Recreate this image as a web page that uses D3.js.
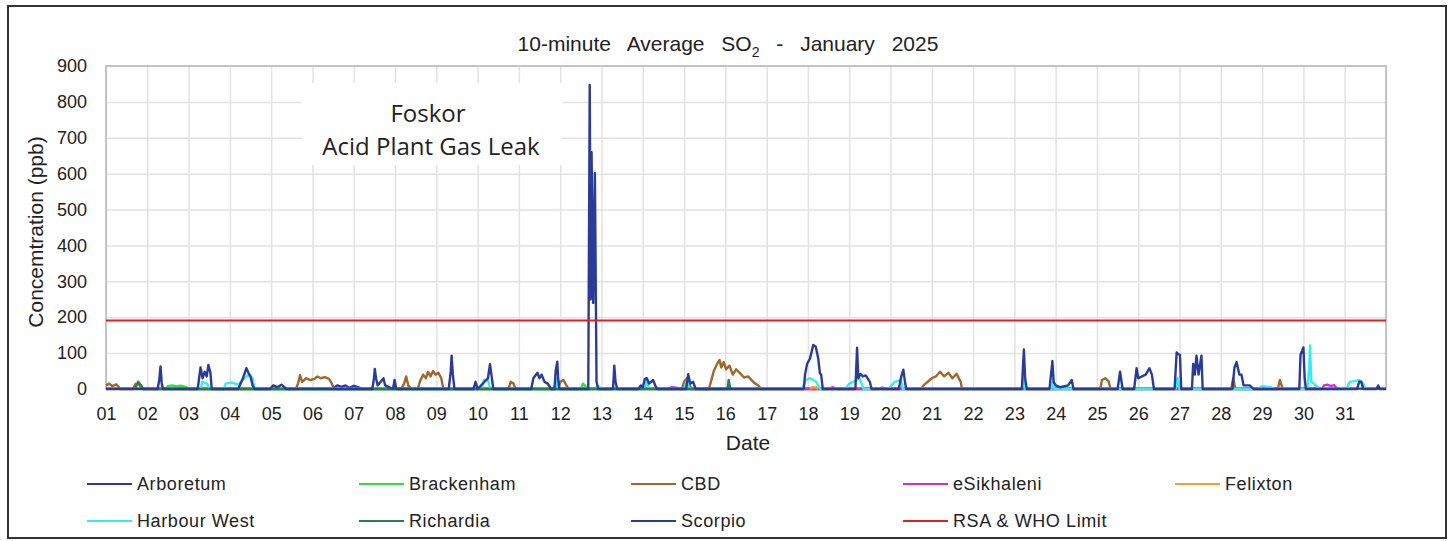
<!DOCTYPE html>
<html lang="en">
<head>
<meta charset="utf-8">
<style>
body { margin: 0; background: #fff; font-family: "Liberation Sans", Arial, sans-serif; }
.grid line { stroke: #e2e2e2; stroke-width: 1.5; }
.grid path { stroke: none; }
.axis path, .axis line { stroke: none; }
.axis text { font-size: 18px; fill: #222; font-family: "Liberation Sans", Arial, sans-serif; }
</style>
<title>10-minute Average SO2 - January 2025</title>
<script src="https://cdn.jsdelivr.net/npm/d3@7"></script>
</head>
<body>
<div id="chart"></div>
<script>

var width = 1449,
	height = 541;

// day of month (fraction of day), ppb
var arboretum = [[1,1],[6.5,1],[6.6,10],[6.7,6],[6.8,10],[6.9,3],[7.0,9],[7.1,5],[7.2,1],[13.9,1],[14.0,6],[14.1,1],[22.5,1],[32,1]];
var brackenham = [[2.45,0],[2.5,8],[2.6,10],[2.7,7],[2.8,9],[2.95,5],[3.0,0],[12.5,0],[12.55,15],[12.6,10],[12.65,0]];
var cbd = [[1.0,10],[1.08,15],[1.15,8],[1.25,13],[1.34,0],
	[1.65,0],[1.72,15],[1.8,12],[1.9,0],
	[5.6,0],[5.65,15],[5.7,39],[5.75,20],[5.85,30],[5.95,25],[6.05,28],[6.12,35],[6.2,30],[6.3,33],[6.4,28],[6.47,15],[6.52,0],
	[8.15,0],[8.22,15],[8.27,35],[8.32,10],[8.4,0],
	[8.55,0],[8.6,20],[8.68,40],[8.75,30],[8.8,48],[8.86,35],[8.92,50],[8.98,40],[9.05,45],[9.12,30],[9.17,0],
	[10.75,0],[10.8,20],[10.87,15],[10.92,0],
	[11.95,0],[12.0,20],[12.08,25],[12.15,10],[12.2,0],
	[14.95,0],[15.0,20],[15.07,30],[15.12,15],[15.18,0],
	[15.6,0],[15.65,20],[15.72,50],[15.8,70],[15.86,81],[15.9,60],[15.96,75],[16.02,55],[16.1,65],[16.18,40],[16.26,55],[16.35,45],[16.45,32],[16.55,35],[16.7,17],[16.8,10],[16.86,0],
	[20.75,0],[20.8,10],[20.9,20],[21.0,30],[21.1,35],[21.2,48],[21.3,35],[21.4,45],[21.5,30],[21.6,42],[21.7,20],[21.73,0],
	[25.08,0],[25.12,25],[25.2,30],[25.28,22],[25.33,0],
	[28.25,0],[28.3,30],[28.35,0],
	[29.38,0],[29.43,25],[29.5,0]];
var esikhaleni = [[14.6,0],[14.7,5],[14.85,3],[14.9,0],[18.5,0],[18.6,5],[18.7,0],[19.7,0],[19.8,4],[19.85,0],
	[30.45,0],[30.5,10],[30.58,12],[30.66,8],[30.74,11],[30.82,0]];
var felixton = [[18.05,0],[18.1,5],[18.2,4],[18.25,0]];
var harbourWest = [[3.3,0],[3.33,20],[3.45,15],[3.5,0],
	[3.85,0],[3.9,15],[4.05,18],[4.2,12],[4.3,25],[4.45,40],[4.55,30],[4.6,0],
	[10.1,0],[10.15,25],[10.25,25],[10.3,0],
	[11.9,0],[11.93,30],[11.97,0],
	[12.85,0],[12.9,10],[13.0,0],
	[14.05,0],[14.1,25],[14.15,0],
	[15.0,0],[15.08,25],[15.12,0],
	[17.85,0],[17.95,25],[18.05,30],[18.2,20],[18.3,0],
	[18.9,0],[19.0,15],[19.1,20],[19.25,30],[19.35,0],
	[19.95,0],[20.1,20],[20.25,25],[20.3,0],
	[23.18,0],[23.22,30],[23.26,0],
	[23.9,0],[23.93,20],[23.97,0],
	[26.9,0],[26.95,30],[27.0,0],
	[28.9,0],[29.0,8],[29.2,5],[29.3,0],
	[30.1,0],[30.14,60],[30.16,121],[30.19,20],[30.25,15],[30.35,5],[30.4,0],
	[31.05,0],[31.12,20],[31.25,22],[31.35,25],[31.45,15],[31.5,0]];
var richardia = [[1.7,0],[1.78,20],[1.85,10],[1.9,0],[16.05,0],[16.08,25],[16.12,0]];
var scorpio = [[1.0,0],[2.25,0],[2.29,25],[2.32,63],[2.35,15],[2.38,0],
	[3.22,0],[3.29,60],[3.34,30],[3.39,48],[3.44,35],[3.48,67],[3.53,45],[3.56,0],
	[4.2,0],[4.3,25],[4.4,58],[4.45,45],[4.5,35],[4.55,10],[4.6,0],
	[4.97,0],[5.05,10],[5.15,5],[5.25,12],[5.37,0],
	[7.45,0],[7.49,30],[7.51,56],[7.54,30],[7.58,10],[7.72,30],[7.76,10],[7.95,0],[7.99,25],[8.03,0],
	[9.3,0],[9.35,50],[9.37,93],[9.4,40],[9.44,0],
	[9.9,0],[9.95,20],[10.0,0],[10.25,30],[10.3,69],[10.34,35],[10.38,0],
	[11.3,0],[11.35,30],[11.45,45],[11.5,30],[11.55,40],[11.62,20],[11.7,15],[11.78,0],
	[11.86,0],[11.89,50],[11.93,76],[11.95,30],[11.98,0],
	[12.68,0],[12.715,847],[12.74,250],[12.76,660],[12.8,240],[12.84,601],[12.88,20],[12.92,0],
	[13.28,0],[13.31,65],[13.34,20],[13.38,0],
	[13.9,0],[13.95,10],[14.0,5],[14.05,28],[14.1,30],[14.15,15],[14.25,25],[14.3,10],[14.35,0],
	[15.05,0],[15.1,41],[15.15,15],[15.22,20],[15.28,0],
	[17.9,0],[17.93,40],[17.98,70],[18.05,85],[18.13,123],[18.19,118],[18.25,85],[18.29,44],[18.32,40],[18.36,0],
	[19.15,0],[19.19,115],[19.22,30],[19.27,42],[19.33,35],[19.4,38],[19.5,20],[19.54,0],
	[20.2,0],[20.26,35],[20.31,54],[20.35,20],[20.38,0],
	[23.18,0],[23.23,110],[23.26,30],[23.3,0],
	[23.85,0],[23.92,78],[23.95,20],[24.0,10],[24.1,5],[24.3,10],[24.39,25],[24.43,0],
	[25.5,0],[25.56,48],[25.62,0],
	[25.9,0],[25.96,58],[26.0,30],[26.18,40],[26.27,58],[26.33,40],[26.38,0],
	[26.88,0],[26.93,102],[26.97,97],[27.01,95],[27.04,0],
	[27.3,0],[27.33,70],[27.37,40],[27.41,93],[27.46,40],[27.53,93],[27.56,0],
	[28.28,0],[28.33,60],[28.38,75],[28.45,40],[28.5,40],[28.55,10],[28.7,10],[28.79,0],
	[29.9,0],[29.93,95],[30.0,116],[30.03,30],[30.06,0],
	[31.3,0],[31.35,20],[31.4,20],[31.45,0],
	[31.77,0],[31.81,10],[31.85,0],[32,0]];
var limit = [[1,191],[32,191]];

var series = [
	{name: "Arboretum", color: "#3232b8", values: arboretum},
	{name: "Brackenham", color: "#33dd44", values: brackenham},
	{name: "CBD", color: "#a0672c", values: cbd},
	{name: "eSikhaleni", color: "#cc33cc", values: esikhaleni},
	{name: "Felixton", color: "#f0a030", values: felixton},
	{name: "Harbour West", color: "#33eeee", values: harbourWest},
	{name: "Richardia", color: "#2e7d50", values: richardia},
	{name: "Scorpio", color: "#2b3c98", values: scorpio},
	{name: "RSA & WHO Limit", color: "#e02020", values: limit}
];

var days = d3.range(1, 32);
var yTicks = d3.range(0, 901, 100);

var svg = d3.select("#chart")
	.append("svg")
	.attr("width", width)
	.attr("height", height);

// frame
svg.append("rect")
	.attr("x", 8).attr("y", 6)
	.attr("width", 1438).attr("height", 532)
	.attr("fill", "#fff")
	.attr("stroke", "#333")
	.attr("stroke-width", 2);

var x = d3.scaleLinear().domain([1, 32]).range([106, 1386]);
var y = d3.scaleLinear().domain([0, 900]).range([389, 66]);

// grid
svg.append("g")
	.attr("class", "grid")
	.attr("transform", "translate(0,389)")
	.call(d3.axisBottom(x).tickValues(days.concat([32])).tickSize(-(389 - 66)).tickFormat(""));
svg.append("g")
	.attr("class", "grid")
	.attr("transform", "translate(106,0)")
	.call(d3.axisLeft(y).tickValues(yTicks).tickSize(-(1386 - 106)).tickFormat(""));

// plot frame
svg.append("rect")
	.attr("x", 106).attr("y", 66)
	.attr("width", 1386 - 106).attr("height", 389 - 66)
	.attr("fill", "none")
	.attr("stroke", "#c4c4c4")
	.attr("stroke-width", 2);

// annotation box
svg.append("rect")
	.attr("x", 302).attr("y", 83)
	.attr("width", 260).attr("height", 82)
	.attr("fill", "#fff");
svg.append("text")
	.attr("x", 428).attr("y", 122)
	.attr("text-anchor", "middle")
	.style("font-family", "'Open Sans', sans-serif")
	.style("font-size", "24px")
	.style("fill", "#222")
	.text("Foskor");
svg.append("text")
	.attr("x", 431).attr("y", 155)
	.attr("text-anchor", "middle")
	.style("font-family", "'Open Sans', sans-serif")
	.style("font-size", "24px")
	.style("fill", "#222")
	.text("Acid Plant Gas Leak");

// axes
svg.append("g")
	.attr("class", "axis")
	.attr("transform", "translate(0,389)")
	.call(d3.axisBottom(x).tickValues(days).tickSize(0).tickPadding(18)
		.tickFormat(function(d){ return d3.format("02d")(d); }));
svg.append("g")
	.attr("class", "axis")
	.attr("transform", "translate(106,0)")
	.call(d3.axisLeft(y).tickValues(yTicks).tickSize(0).tickPadding(19));

var line = d3.line()
	.x(function(d){ return x(d[0]); })
	.y(function(d){ return y(d[1]); });

svg.append("g")
	.selectAll("path")
	.data(series)
	.enter()
	.append("path")
	.attr("d", function(d){ return line(d.values); })
	.attr("fill", "none")
	.attr("stroke", function(d){ return d.color; })
	.attr("stroke-width", function(d){ return d.name == "RSA & WHO Limit" ? 2 : 2.4; })
	.attr("stroke-linejoin", "round");

// title
var title = svg.append("text")
	.attr("x", 728).attr("y", 51)
	.attr("text-anchor", "middle")
	.style("font-size", "21px")
	.style("word-spacing", "11px")
	.style("fill", "#222");
title.append("tspan").text("10-minute Average SO");
title.append("tspan").attr("dy", 6).style("font-size", "14px").text("2");
title.append("tspan").attr("dy", -6).text(" - January 2025");

svg.append("text")
	.attr("transform", "translate(43,232) rotate(-90)")
	.attr("text-anchor", "middle")
	.style("font-size", "21px")
	.style("fill", "#222")
	.text("Concemtration (ppb)");

svg.append("text")
	.attr("x", 748).attr("y", 450)
	.attr("text-anchor", "middle")
	.style("font-size", "21px")
	.style("fill", "#222")
	.text("Date");

// legend
var legend = svg.append("g")
	.selectAll("g")
	.data(series)
	.enter()
	.append("g")
	.attr("transform", function(d, i){
		return "translate(" + (87 + (i % 5) * 272) + "," + (484 + Math.floor(i / 5) * 37) + ")";
	});
legend.append("line")
	.attr("x1", 0).attr("x2", 45)
	.attr("stroke", function(d){ return d.color; })
	.attr("stroke-width", 2);
legend.append("text")
	.attr("x", 50).attr("y", 6)
	.style("font-size", "18px")
	.style("letter-spacing", "0.6px")
	.style("fill", "#222")
	.text(function(d){ return d.name; });

</script>
</body>
</html>
